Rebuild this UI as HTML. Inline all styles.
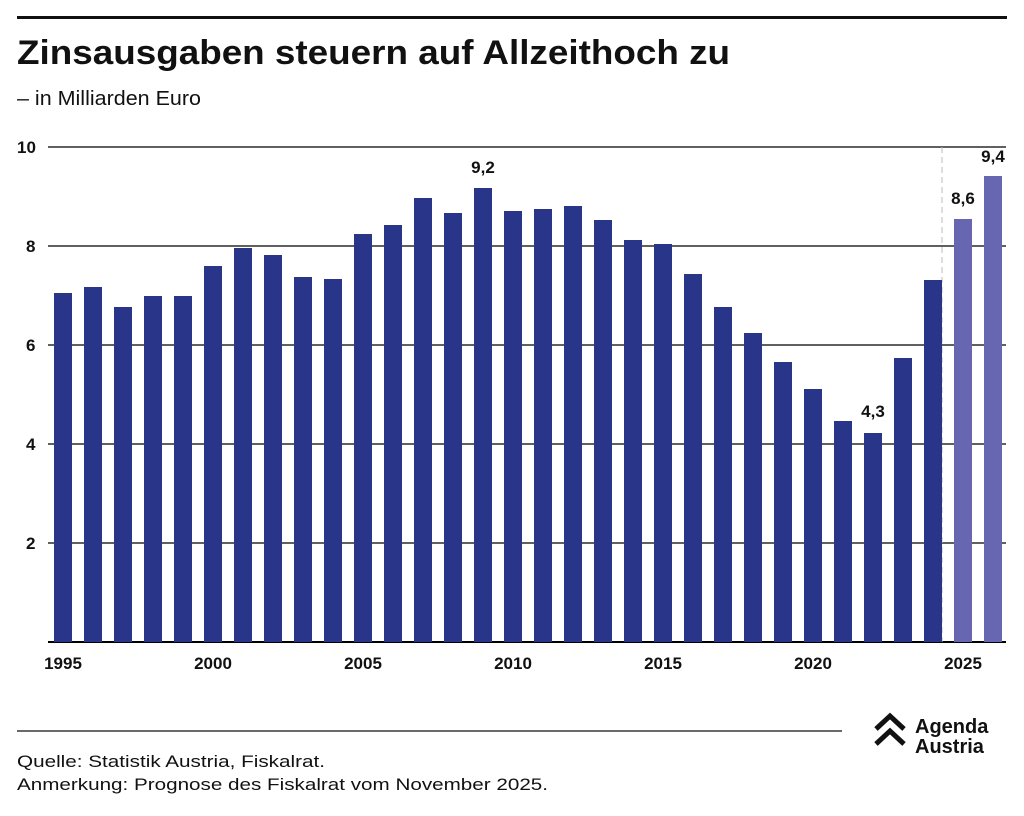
<!DOCTYPE html>
<html><head><meta charset="utf-8"><style>
body{margin:0;background:#fff;width:1024px;height:811px;overflow:hidden;font-family:"Liberation Sans",sans-serif}
</style></head><body>
<svg width="1024" height="811" xmlns="http://www.w3.org/2000/svg" font-family="Liberation Sans, sans-serif">
<rect x="17" y="16" width="990" height="3" fill="#111"/>
<text x="17" y="64" font-size="34" font-weight="bold" fill="#111" textLength="713" lengthAdjust="spacingAndGlyphs">Zinsausgaben steuern auf Allzeithoch zu</text>
<text x="17" y="105" font-size="20" fill="#111" textLength="184" lengthAdjust="spacingAndGlyphs">– in Milliarden Euro</text>
<g stroke="#000" stroke-width="1.3">
<line x1="48" x2="1006" y1="147" y2="147"/>
<line x1="48" x2="1006" y1="246" y2="246"/>
<line x1="48" x2="1006" y1="345" y2="345"/>
<line x1="48" x2="1006" y1="444" y2="444"/>
<line x1="48" x2="1006" y1="543" y2="543"/>
<line x1="48" x2="1006" y1="642" y2="642" stroke-width="2"/>
</g>
<g font-size="17" fill="#111" font-weight="bold">
<text x="17" y="153">10</text><text x="26" y="252">8</text><text x="26" y="351">6</text><text x="26" y="450">4</text><text x="26" y="549">2</text>
</g>
<line x1="942" x2="942" y1="147" y2="642" stroke="#bbb" stroke-dasharray="6,4"/>
<g id="bars"></g>
<g font-size="17" fill="#111" font-weight="bold" text-anchor="middle">
<text x="63" y="669">1995</text><text x="213" y="669">2000</text><text x="363" y="669">2005</text><text x="513" y="669">2010</text><text x="663" y="669">2015</text><text x="813" y="669">2020</text><text x="963" y="669">2025</text>
<text x="483" y="173">9,2</text><text x="873" y="417">4,3</text><text x="963" y="204">8,6</text><text x="993" y="162">9,4</text>
</g>
<line x1="17" x2="842" y1="731" y2="731" stroke="#111" stroke-width="1.3"/>
<text x="17" y="767" font-size="17" fill="#111" textLength="308" lengthAdjust="spacingAndGlyphs">Quelle: Statistik Austria, Fiskalrat.</text>
<text x="17" y="790" font-size="17" fill="#111" textLength="531" lengthAdjust="spacingAndGlyphs">Anmerkung: Prognose des Fiskalrat vom November 2025.</text>
<g fill="none" stroke="#111" stroke-width="5">
<polyline points="876,729 890,716 904,729"/><polyline points="876,744 890,731 904,744"/>
</g>
<text x="915" y="733" font-size="20" font-weight="bold" fill="#111">Agenda</text>
<text x="915" y="753" font-size="20" font-weight="bold" fill="#111">Austria</text>
</svg>
<script>
var tops=[293,287,307,296,296,266,248,255,277,279,234,225,198,213,188,211,209,206,220,240,244,274,307,333,362,389,421,433,358,280,219,176];
var g=document.getElementById('bars'),s='';
tops.forEach(function(t,i){var x=54+30*i;s+='<rect x="'+x+'" y="'+t+'" width="18" height="'+(642-t)+'" fill="'+(i>=30?'#6766b0':'#283589')+'"/>';});
g.innerHTML=s;
</script>
</body></html>
